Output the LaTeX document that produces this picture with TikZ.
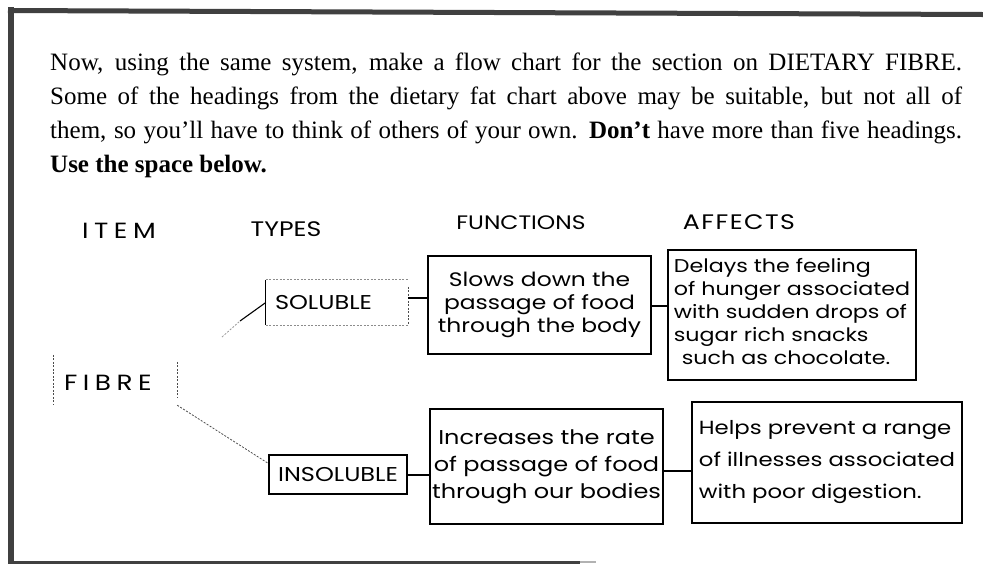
\documentclass[tikz,border=0pt]{standalone}
\usepackage{fontspec}
\setmainfont{Liberation Serif}
\newfontfamily\hand[FakeStretch=1.2]{Poppins}
\newfontfamily\handwide[FakeStretch=1.2,LetterSpace=25]{Poppins}
\newfontfamily\handmid[FakeStretch=1.2,LetterSpace=7]{Poppins}
\usetikzlibrary{calc}
\definecolor{framegray}{gray}{0.25}
\tikzset{
  handbox/.style={draw=black, line width=1.1pt, inner sep=2pt, font=\hand},
  joinline/.style={draw=black, line width=1.1pt},
  faintline/.style={draw=black!70, line width=0.8pt, dash pattern=on 2pt off 1.5pt},
  heading/.style={font=\hand\fontsize{21}{24}\selectfont, inner sep=0pt},
}
\begin{document}
\begin{tikzpicture}[x=1pt,y=-1pt]
\useasboundingbox (0,0) rectangle (983,566);
\fill[white] (0,0) rectangle (983,566);
% frame
\draw[framegray, line width=6pt] (11,7) -- (11,564);
\draw[framegray, line width=5pt] (8,10.5) -- (983,14.5);
\draw[framegray, line width=3pt] (8,562) -- (580,562);
\draw[gray!60, line width=2pt] (580,562) -- (596,562);
% printed instructions
\node[anchor=base west, inner sep=0pt, text width=912pt, align=justify,
      font=\fontsize{25}{34}\selectfont] (instr) at (50,70)
 {Now, using the same system, make a flow chart for the section on DIETARY FIBRE.\linebreak
  Some of the headings from the dietary fat chart above may be suitable, but not all of\linebreak
  them, so you'll have to think of others of your own. \textbf{Don't} have more than five headings.\linebreak
  \textbf{Use the space below.}\par};
% headings
\node[heading, font=\handwide\fontsize{22}{24}\selectfont] (hitem) at (119,231) {ITEM};
\node[heading] (htypes) at (286,229) {TYPES};
\node[heading, font=\hand\fontsize{19.5}{24}\selectfont] (hfunc) at (521,223) {FUNCTIONS};
\node[heading, font=\handmid\fontsize{21}{24}\selectfont] (haff) at (739,222) {AFFECTS};
% item
\node[minimum width=123pt, minimum height=50pt, inner sep=0pt] (fibre) at (115.5,380) {};
\node[anchor=west, font=\handwide\fontsize{22}{24}\selectfont, inner sep=0pt] (fibretext) at (64,383) {FIBRE};
\draw[faintline] (fibre.north west) -- (fibre.south west);
\draw[faintline] ([yshift=-7pt]fibre.north east) -- ([yshift=7pt]fibre.south east);
% types
\node[font=\hand\fontsize{20}{22}\selectfont, minimum width=142pt, minimum height=45pt, inner sep=0pt] (sol) at (337,302.5) {SOLUBLE\hspace*{27pt}};
\draw[joinline] (sol.north west) -- (sol.south west);
\draw[faintline, draw=black!45] (sol.north west) -- (sol.north east);
\draw[faintline, draw=black!45] (sol.south west) -- (sol.south east);
\draw[faintline] ([yshift=-7pt]sol.north east) -- (sol.south east);
\node[handbox, font=\hand\fontsize{20}{22}\selectfont, minimum width=138pt, minimum height=39pt] (insol) at (338,474.5) {INSOLUBLE};
% functions
\node[handbox, font=\hand\fontsize{19.5}{23}\selectfont, align=center, minimum width=223pt, minimum height=98pt] (f1) at (539.5,305)
 {Slows down the\\passage of food\\through the body};
\node[handbox, font=\hand\fontsize{20}{27}\selectfont, align=center, minimum width=233pt, minimum height=115pt] (f2) at (546.5,466.5)
 {\raisebox{-4pt}{Increases the rate}\\\raisebox{-4pt}{of passage of food}\\\raisebox{-4pt}{through our bodies}};
% affects
\node[handbox, font=\hand\fontsize{18.5}{23}\selectfont, align=left, minimum width=248pt, minimum height=130pt] (a1) at (792,315)
 {\raisebox{7pt}{Delays the feeling}\\\raisebox{7pt}{of hunger associated}\\\raisebox{7pt}{with sudden drops of}\\\raisebox{7pt}{sugar rich snacks}\\\raisebox{7pt}{\hspace*{8pt}such as chocolate.}};
\node[handbox, font=\hand\fontsize{19}{32}\selectfont, align=left, minimum width=270pt, minimum height=121pt] (a2) at (827,462.5)
 {Helps prevent a range\\of illnesses associated\\with poor digestion.};
% connectors
\coordinate (cfs) at (222,337);
\coordinate (cmid) at (240,321);
\draw[faintline, draw=black!40] (cfs) -- (cmid);
\draw[joinline] (cmid) -- ($(sol.north west)!0.5!(sol.south west)$);
\draw[faintline] (fibre.south east) -- ([yshift=11pt]insol.west);
\draw[joinline] (sol.east |- 0,298) -- (f1.west |- 0,298);
\draw[joinline] (f1.east |- 0,306) -- (a1.west |- 0,306);
\draw[joinline] (insol.east |- 0,475) -- (f2.west |- 0,475);
\draw[joinline] (f2.east |- 0,471) -- (a2.west |- 0,471);
\end{tikzpicture}
\end{document}
